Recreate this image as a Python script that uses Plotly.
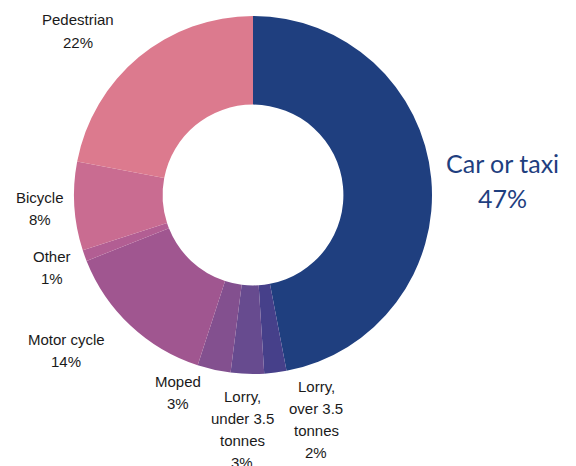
import plotly.graph_objects as go

categories = ["Car or taxi", "Lorry, over 3.5 tonnes", "Lorry, under 3.5 tonnes",
              "Moped", "Motor cycle", "Other", "Bicycle", "Pedestrian"]
values = [47, 2, 3, 3, 14, 1, 8, 22]
colors = ["#1f3f7f", "#46408a", "#674b8f", "#83508f", "#a05690",
          "#b25e93", "#c96c91", "#dc7a8e"]

# label text lines (multi-line labels, placement in pixels)
label_lines = {
    "Car or taxi": ["Car or taxi", "47%"],
    "Lorry, over 3.5 tonnes": ["Lorry,", "over 3.5", "tonnes", "2%"],
    "Lorry, under 3.5 tonnes": ["Lorry,", "under 3.5", "tonnes", "3%"],
    "Moped": ["Moped", "3%"],
    "Motor cycle": ["Motor cycle", "14%"],
    "Other": ["Other", "1%"],
    "Bicycle": ["Bicycle", "8%"],
    "Pedestrian": ["Pedestrian", "22%"],
}
# label anchor (x centre, y of first line centre, line spacing) in pixels
label_pos = {
    "Car or taxi": (502, 163, 35),
    "Lorry, over 3.5 tonnes": (316, 386, 22),
    "Lorry, under 3.5 tonnes": (242, 396, 22),
    "Moped": (178, 381, 22),
    "Motor cycle": (66, 339, 22),
    "Other": (52, 256, 22),
    "Bicycle": (40, 197, 22),
    "Pedestrian": (78, 20, 22),
}

W, H = 576, 466
cx, cy, r = 253, 195, 179

fig = go.Figure(go.Pie(
    labels=categories, values=values, sort=False, direction="clockwise",
    rotation=0, hole=0.505, marker=dict(colors=colors, line=dict(width=0)),
    textinfo="none", hoverinfo="label+percent", showlegend=False,
    domain=dict(x=[(cx - r) / W, (cx + r) / W],
                y=[(H - cy - r) / H, (H - cy + r) / H]),
))

annotations = []
for cat in categories:
    x0, y0, dy = label_pos[cat]
    big = cat == "Car or taxi"
    for i, line in enumerate(label_lines[cat]):
        annotations.append(dict(
            x=x0 / W, y=1 - (y0 + i * dy) / H, xref="paper", yref="paper",
            text=line, showarrow=False, xanchor="center", yanchor="middle",
            font=dict(family="Lato" if big else "Liberation Sans",
                      size=25 if big else 15,
                      color="#1f3f7f" if big else "#1a1a1a",
                      weight=400),
        ))

fig.update_layout(
    width=W, height=H, margin=dict(l=0, r=0, t=0, b=0),
    paper_bgcolor="white", plot_bgcolor="white",
    annotations=annotations,
)
fig.write_html("out.html", config={"displayModeBar": False},
               post_script="document.body.style.margin='0';document.body.style.overflow='hidden';")
